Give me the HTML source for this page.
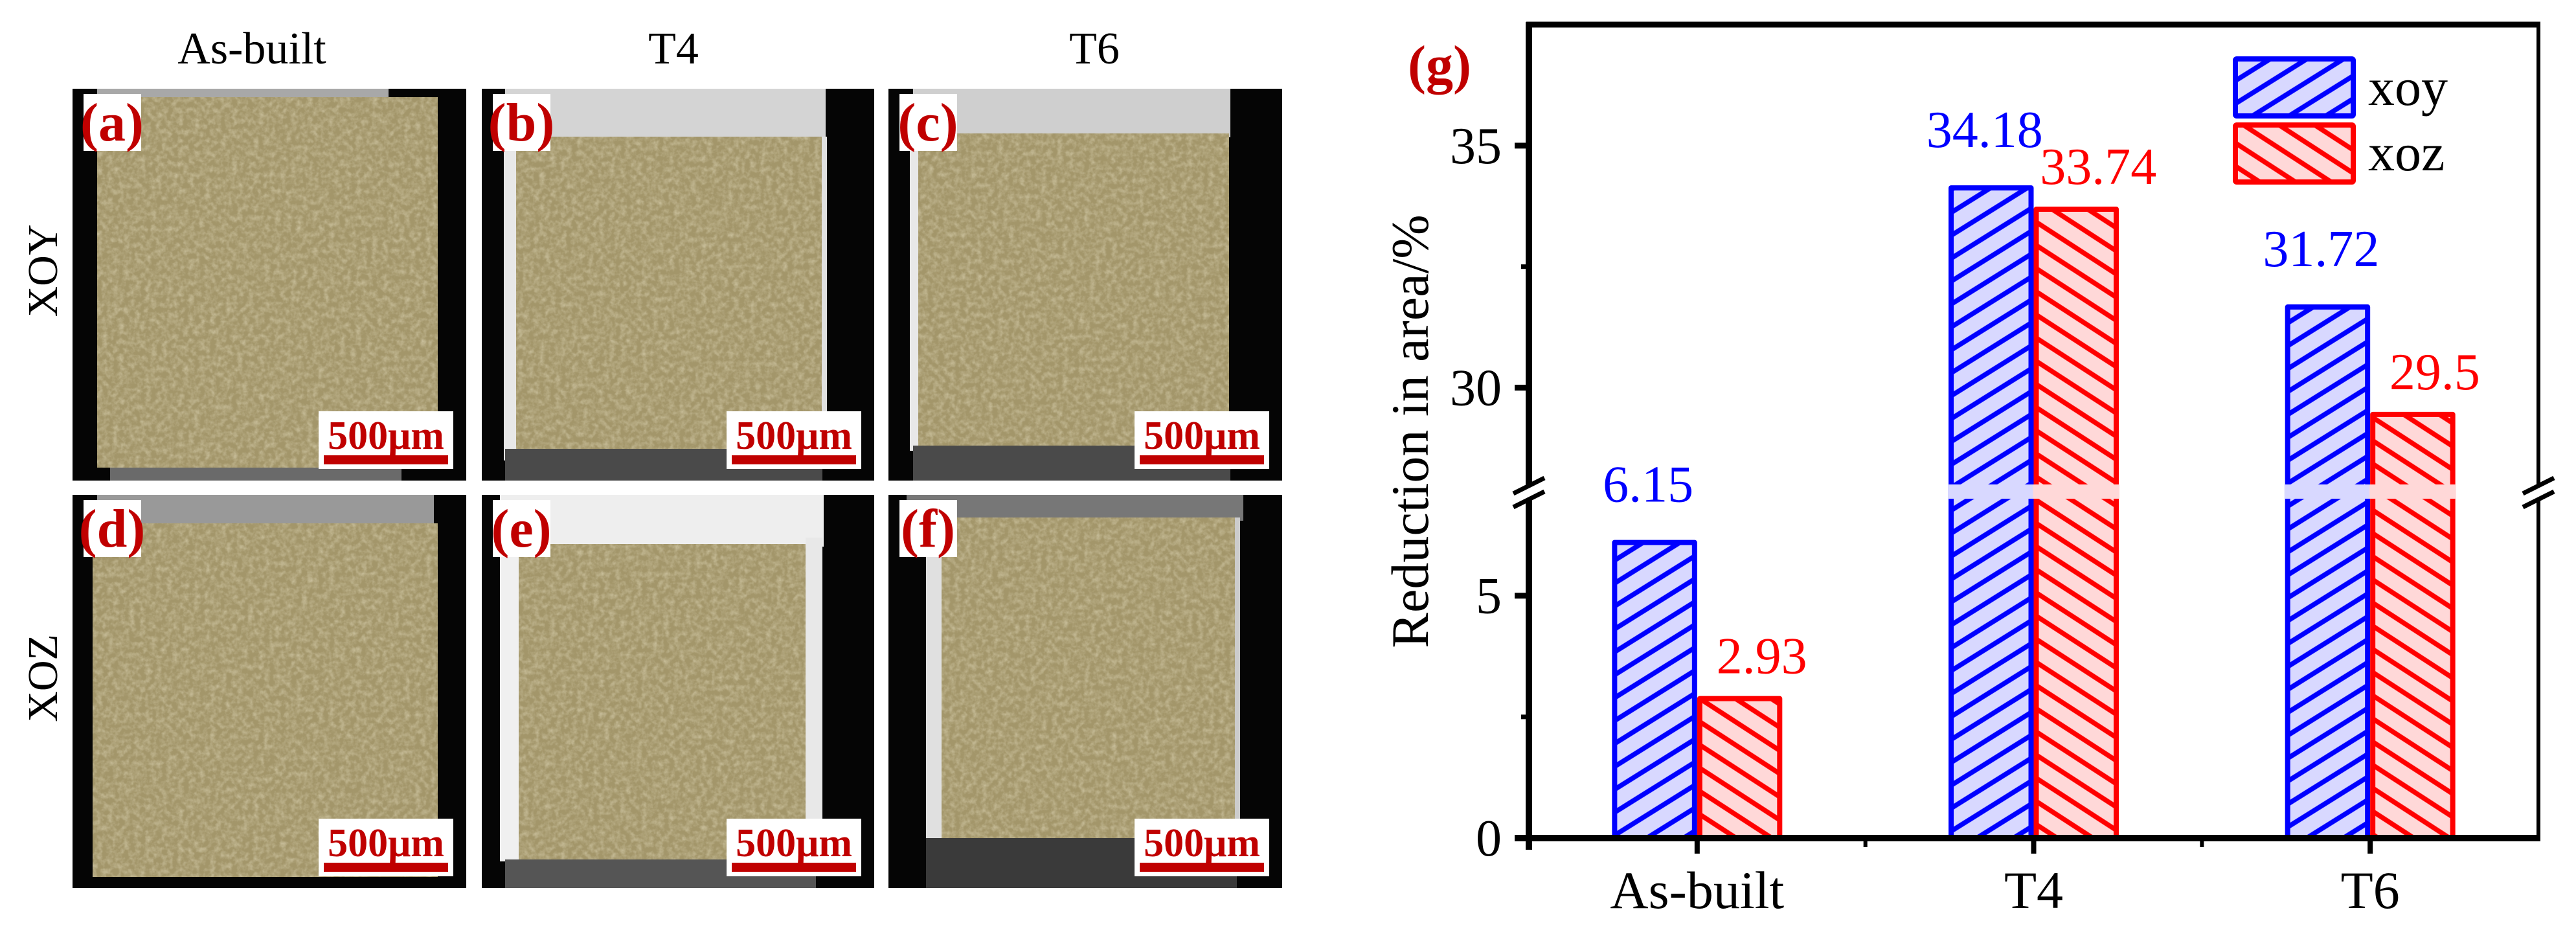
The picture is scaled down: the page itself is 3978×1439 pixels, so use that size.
<!DOCTYPE html>
<html><head><meta charset="utf-8"><style>
html,body{margin:0;padding:0;background:#fff}
svg{display:block}
svg text{font-family:"Liberation Serif","Times New Roman","DejaVu Serif",serif !important}
</style></head><body>
<svg id="fig" width="3978" height="1439" viewBox="0 0 3978 1439" xmlns="http://www.w3.org/2000/svg" font-family="Liberation Serif, DejaVu Serif, serif">
<defs>
<pattern id="hatchBlue" patternUnits="userSpaceOnUse" width="60" height="30" patternTransform="rotate(-32)">
<rect width="60" height="30" fill="#d8d8ff"/><line x1="0" y1="15" x2="60" y2="15" stroke="#0000ff" stroke-width="7.5"/></pattern>
<pattern id="hatchRed" patternUnits="userSpaceOnUse" width="60" height="30" patternTransform="rotate(33)">
<rect width="60" height="30" fill="#ffd8d8"/><line x1="0" y1="15" x2="60" y2="15" stroke="#ff0000" stroke-width="7.5"/></pattern>
<filter id="tex" x="0" y="0" width="100%" height="100%">
<feTurbulence type="fractalNoise" baseFrequency="0.12" numOctaves="3" seed="4"/>
<feColorMatrix type="matrix" values="0 0 0 0 0.9  0 0 0 0 0.85  0 0 0 0 0.65  0 0 0 0.8 -0.3"/>
<feComposite in2="SourceGraphic" operator="in"/>
</filter>
</defs>
<g id="micrographs"></g>
<g id="chart"></g>
</svg>
<script>
const NS='http://www.w3.org/2000/svg';
const FF='"Liberation Serif", "Times New Roman", "DejaVu Serif", serif';
function mk(tag,attrs,parent,txt){const e=document.createElementNS(NS,tag);for(const k in attrs)e.setAttribute(k,attrs[k]);if(txt!==undefined){e.textContent=txt;e.style.fontFamily=FF;}parent.appendChild(e);return e;}

// ---------- micrograph panels ----------
const mg=document.getElementById('micrographs');
const panels=[
 {id:'a',p:[112,137,608,605],parts:[[150,137,450,25,'#a8a8a8'],[170,722,450,20,'#6a6a6a']],k:[150,150,526,572]},
 {id:'b',p:[744,137,606,605],parts:[[780,137,495,80,'#d4d4d4'],[778,211,25,500,'#e8e8e8'],[1263,211,14,482,'#e0e0e0'],[780,693,490,49,'#4a4a4a']],k:[797,211,472,482]},
 {id:'c',p:[1372,137,608,605],parts:[[1410,137,490,75,'#cfcfcf'],[1405,206,16,490,'#e8e8e8'],[1410,688,490,54,'#4a4a4a']],k:[1418,206,480,482]},
 {id:'d',p:[112,764,608,607],parts:[[150,764,520,48,'#999']],k:[143,808,533,546]},
 {id:'e',p:[744,764,606,607],parts:[[772,764,500,80,'#eeeeee'],[772,840,32,490,'#f0f0f0'],[1244,830,26,470,'#e8e8e8'],[780,1327,480,44,'#555']],k:[801,840,443,487]},
 {id:'f',p:[1372,764,608,607],parts:[[1400,764,520,40,'#777'],[1430,799,26,500,'#e0e0e0'],[1905,799,10,495,'#ccc'],[1430,1294,480,77,'#3a3a3a']],k:[1454,799,453,495]}
];
panels.forEach(pn=>{
 const g=mk('g',{},mg);
 
 
 const [px,py,pw,ph]=pn.p;
 mk('rect',{x:px,y:py,width:pw,height:ph,fill:'#050505'},g);
 pn.parts.forEach(r=>mk('rect',{x:r[0],y:r[1],width:r[2],height:r[3],fill:r[4]},g));
 const [kx,ky,kw,kh]=pn.k;
 const kr=mk('rect',{x:kx,y:ky,width:kw,height:kh,fill:'#a3966a'},g);
 
 
 mk('rect',{x:kx,y:ky,width:kw,height:kh,fill:'#a3966a',filter:'url(#tex)'},g);
 const lb=mk('g',{},g);
 
 
 mk('rect',{x:px+17,y:py+8,width:89,height:88,fill:'#fff'},lb);
 mk('text',{x:px+61,y:py+80,'font-size':84,'font-weight':'bold',fill:'#c00000','text-anchor':'middle'},lb,'('+pn.id+')');
 const sb=mk('g',{},g);
 
 
 const bx=px+pw-228,by=py+ph-107;
 mk('rect',{x:bx,y:by,width:208,height:89,fill:'#fff'},sb);
 mk('text',{x:bx+104,y:by+58,'font-size':62,'font-weight':'bold',fill:'#c00000','text-anchor':'middle'},sb,'500μm');
 mk('rect',{x:bx+8,y:by+68,width:192,height:14,fill:'#c00000'},sb);
});
[['As-built',389],['T4',1040],['T6',1690]].forEach(c=>{
 const t=mk('text',{x:c[1],y:98,'font-size':70,'text-anchor':'middle',fill:'#000'},mg,c[0]);
 
 
});
[['XOY',418],['XOZ',1047]].forEach(r=>{
 const t=mk('text',{x:0,y:0,'font-size':66,'text-anchor':'middle',fill:'#000',transform:'translate(88,'+r[1]+') rotate(-90)'},mg,r[0]);
 
 
});

// ---------- chart data ----------
const categories=['As-built','T4','T6'];
const xoyValues=[6.15,34.18,31.72];
const xozValues=[2.93,33.74,29.5];
const xoyLabels=['6.15','34.18','31.72'];
const xozLabels=['2.93','33.74','29.5'];
const lowerTicks=[0,5];
const upperTicks=[30,35];
const lowerMinor=[2.5];
const upperMinor=[32.5];
const seriesNames=['xoy','xoz'];

// ---------- axis functions ----------
const L=2361,R=3920,T=38,B=1294;
const LOW_MAX=7,UP_MIN=28,UP_MAX=37.5;
const LOW_TOP=770,UP_BOT=748;
function yScale(v){
 if(v<=LOW_MAX) return B-(v/LOW_MAX)*(B-LOW_TOP);
 if(v>=UP_MIN) return UP_BOT-((v-UP_MIN)/(UP_MAX-UP_MIN))*(UP_BOT-T);
 return (LOW_TOP+UP_BOT)/2;
}
const band=(R-L)/categories.length;
function xCenter(i){return L+band*(i+0.5);}
const BW=band*0.253;

const ch=document.getElementById('chart');
const barsG=mk('g',{},ch);


function drawBar(i,v,side,fillId,stroke,name){
 const x=side<0?xCenter(i)-BW:xCenter(i);
 const y=yScale(v);
 const g=mk('g',{},barsG);
 
 
 mk('rect',{x:x+4,y:y+4,width:BW-8,height:B-y-4,fill:'url(#'+fillId+')',stroke:stroke,'stroke-width':8,'stroke-linejoin':'round'},g);
 if(v>LOW_MAX){
  mk('rect',{x:x-1,y:UP_BOT,width:BW+2,height:LOW_TOP-UP_BOT,fill:fillId==='hatchBlue'?'#d8d8ff':'#ffd8d8'},g);
 }
}
categories.forEach((c,i)=>{
 drawBar(i,xoyValues[i],-1,'hatchBlue','#0000ff','bar-xoy-'+c.toLowerCase());
 drawBar(i,xozValues[i],1,'hatchRed','#ff0000','bar-xoz-'+c.toLowerCase());
});
categories.forEach((c,i)=>{
 const t1=mk('text',{x:xCenter(i)-BW/2-10,y:yScale(xoyValues[i])-59,'font-size':80,fill:'#0000ff','text-anchor':'middle'},ch,xoyLabels[i]);
 
 
 const t2=mk('text',{x:xCenter(i)+BW/2+34,y:yScale(xozValues[i])-35,'font-size':80,fill:'#ff0000','text-anchor':'middle'},ch,xozLabels[i]);
 
 
});

const ax=mk('g',{},ch);


mk('line',{x1:L-4,y1:T,x2:R+3,y2:T,stroke:'#000','stroke-width':9},ax);
mk('line',{x1:R,y1:T,x2:R,y2:B,stroke:'#000','stroke-width':6},ax);
mk('line',{x1:L,y1:T-4,x2:L,y2:B+18,stroke:'#000','stroke-width':10},ax);
mk('line',{x1:L-22,y1:B,x2:R+3,y2:B,stroke:'#000','stroke-width':10},ax);
[L,R].forEach((xx,k)=>{
 const br=mk('g',{},ax);
 
 
 mk('rect',{x:xx-7,y:750,width:14,height:20,fill:'#fff'},br);
 mk('line',{x1:xx-24,y1:762,x2:xx+24,y2:738,stroke:'#000','stroke-width':7},br);
 mk('line',{x1:xx-24,y1:783,x2:xx+24,y2:759,stroke:'#000','stroke-width':7},br);
});
lowerTicks.concat(upperTicks).forEach(v=>{
 const y=yScale(v);
 mk('line',{x1:L-22,y1:y,x2:L,y2:y,stroke:'#000','stroke-width':9},ax);
 const t=mk('text',{x:L-42,y:y+27,'font-size':80,'text-anchor':'end',fill:'#000'},ax,String(v));
 
 
});
lowerMinor.concat(upperMinor).forEach(v=>{
 const y=yScale(v);
 mk('line',{x1:L-12,y1:y,x2:L,y2:y,stroke:'#000','stroke-width':7},ax);
});
categories.forEach((c,i)=>{
 const x=xCenter(i);
 mk('line',{x1:x,y1:B,x2:x,y2:B+24,stroke:'#000','stroke-width':8},ax);
 const t=mk('text',{x:x,y:1402,'font-size':82,'text-anchor':'middle',fill:'#000'},ax,c);
 
 
 if(i<categories.length-1) mk('line',{x1:x+band/2,y1:B,x2:x+band/2,y2:B+14,stroke:'#000','stroke-width':6},ax);
});
const yt=mk('text',{x:0,y:0,'font-size':82,'text-anchor':'middle',fill:'#000',transform:'translate(2205,666) rotate(-90)'},ch,'Reduction in area/%');


const gl=mk('text',{x:2223,y:128,'font-size':84,'font-weight':'bold','text-anchor':'middle',fill:'#c00000'},ch,'(g)');


const lg=mk('g',{},ch);


seriesNames.forEach((s,k)=>{
 const e=mk('g',{},lg);
 
 
 const y0=k?193:91;
 mk('rect',{x:3452,y:y0,width:182,height:88,fill:k?'url(#hatchRed)':'url(#hatchBlue)',stroke:k?'#ff0000':'#0000ff','stroke-width':8,rx:2},e);
 mk('text',{x:3657,y:k?263:162,'font-size':82,fill:'#000'},e,s);
});
</script>
</body></html>
